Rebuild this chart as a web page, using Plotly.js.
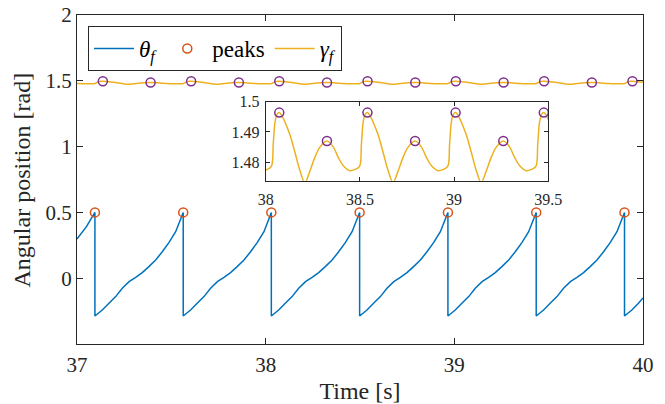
<!DOCTYPE html>
<html><head><meta charset="utf-8">
<script src="https://cdn.plot.ly/plotly-3.0.1.min.js"></script>
<style>html,body{margin:0;padding:0;background:#fff}#chart{width:665px;height:404px}</style>
</head><body><div id="chart"></div><script>
// theta_f (sawtooth)
const thetaTime = [
  37.000, 37.050, 37.095,
  37.095, 37.134, 37.169, 37.205, 37.240, 37.276, 37.311, 37.346, 37.381, 37.417, 37.452, 37.487, 37.523, 37.563,
  37.563, 37.602, 37.637, 37.673, 37.708, 37.744, 37.779, 37.814, 37.849, 37.885, 37.920, 37.955, 37.991, 38.030,
  38.030, 38.069, 38.104, 38.140, 38.175, 38.211, 38.246, 38.281, 38.316, 38.352, 38.387, 38.422, 38.458, 38.498,
  38.498, 38.537, 38.572, 38.608, 38.643, 38.679, 38.714, 38.749, 38.784, 38.820, 38.855, 38.890, 38.926, 38.966,
  38.966, 39.005, 39.040, 39.076, 39.111, 39.147, 39.182, 39.217, 39.252, 39.288, 39.323, 39.358, 39.394, 39.434,
  39.434, 39.473, 39.508, 39.544, 39.579, 39.615, 39.650, 39.685, 39.720, 39.756, 39.791, 39.826, 39.862, 39.902,
  39.902, 39.941, 39.976, 40.000
];
const thetaValue = [
  0.298, 0.392, 0.500,
  -0.287, -0.242, -0.191, -0.140, -0.077, -0.026, 0.006, 0.042, 0.088, 0.138, 0.201, 0.270, 0.353, 0.500,
  -0.287, -0.242, -0.191, -0.140, -0.077, -0.026, 0.006, 0.042, 0.088, 0.138, 0.201, 0.270, 0.353, 0.500,
  -0.287, -0.242, -0.191, -0.140, -0.077, -0.026, 0.006, 0.042, 0.088, 0.138, 0.201, 0.270, 0.353, 0.500,
  -0.287, -0.242, -0.191, -0.140, -0.077, -0.026, 0.006, 0.042, 0.088, 0.138, 0.201, 0.270, 0.353, 0.500,
  -0.287, -0.242, -0.191, -0.140, -0.077, -0.026, 0.006, 0.042, 0.088, 0.138, 0.201, 0.270, 0.353, 0.500,
  -0.287, -0.242, -0.191, -0.140, -0.077, -0.026, 0.006, 0.042, 0.088, 0.138, 0.201, 0.270, 0.353, 0.500,
  -0.287, -0.242, -0.191, -0.150
];
// theta_f peaks
const peakTime = [37.095, 37.563, 38.030, 38.498, 38.966, 39.434, 39.902];
const peakValue = [0.5, 0.5, 0.5, 0.5, 0.5, 0.5, 0.5];

// gamma_f (inset detail)
const gammaTime = [
  37.000, 37.008, 37.044, 37.071,
  37.095, 37.105, 37.115, 37.125, 37.137, 37.150, 37.167, 37.194, 37.220, 37.247, 37.273, 37.300, 37.326, 37.353, 37.390, 37.424, 37.450, 37.476, 37.512, 37.539,
  37.563, 37.573, 37.583, 37.593, 37.605, 37.618, 37.635, 37.662, 37.688, 37.715, 37.741, 37.768, 37.794, 37.821, 37.858, 37.892, 37.918, 37.944, 37.980, 38.007,
  38.030, 38.040, 38.050, 38.060, 38.072, 38.085, 38.102, 38.129, 38.155, 38.182, 38.208, 38.235, 38.261, 38.288, 38.325, 38.359, 38.385, 38.411, 38.447, 38.474,
  38.498, 38.508, 38.518, 38.528, 38.540, 38.553, 38.570, 38.597, 38.623, 38.650, 38.676, 38.703, 38.729, 38.756, 38.793, 38.827, 38.853, 38.879, 38.915, 38.942,
  38.966, 38.976, 38.986, 38.996, 39.008, 39.021, 39.038, 39.065, 39.091, 39.118, 39.144, 39.171, 39.197, 39.224, 39.261, 39.295, 39.321, 39.347, 39.383, 39.410,
  39.434, 39.444, 39.454, 39.464, 39.476, 39.489, 39.506, 39.533, 39.559, 39.586, 39.612, 39.639, 39.665, 39.692, 39.729, 39.763, 39.789, 39.815, 39.851, 39.878,
  39.902, 39.912, 39.922, 39.932, 39.944, 39.957, 39.974, 40.000
];
const gammaValue = [
  1.4795, 1.4789, 1.4772, 1.4776,
  1.4786, 1.4860, 1.4935, 1.4958, 1.4964, 1.4955, 1.4933, 1.4890, 1.4833, 1.4772, 1.4733, 1.4772, 1.4816, 1.4850, 1.4870, 1.4850, 1.4816, 1.4789, 1.4772, 1.4776,
  1.4786, 1.4860, 1.4935, 1.4958, 1.4964, 1.4955, 1.4933, 1.4890, 1.4833, 1.4772, 1.4733, 1.4772, 1.4816, 1.4850, 1.4870, 1.4850, 1.4816, 1.4789, 1.4772, 1.4776,
  1.4786, 1.4860, 1.4935, 1.4958, 1.4964, 1.4955, 1.4933, 1.4890, 1.4833, 1.4772, 1.4733, 1.4772, 1.4816, 1.4850, 1.4870, 1.4850, 1.4816, 1.4789, 1.4772, 1.4776,
  1.4786, 1.4860, 1.4935, 1.4958, 1.4964, 1.4955, 1.4933, 1.4890, 1.4833, 1.4772, 1.4733, 1.4772, 1.4816, 1.4850, 1.4870, 1.4850, 1.4816, 1.4789, 1.4772, 1.4776,
  1.4786, 1.4860, 1.4935, 1.4958, 1.4964, 1.4955, 1.4933, 1.4890, 1.4833, 1.4772, 1.4733, 1.4772, 1.4816, 1.4850, 1.4870, 1.4850, 1.4816, 1.4789, 1.4772, 1.4776,
  1.4786, 1.4860, 1.4935, 1.4958, 1.4964, 1.4955, 1.4933, 1.4890, 1.4833, 1.4772, 1.4733, 1.4772, 1.4816, 1.4850, 1.4870, 1.4850, 1.4816, 1.4789, 1.4772, 1.4776,
  1.4786, 1.4860, 1.4935, 1.4958, 1.4964, 1.4955, 1.4933, 1.4891
];
// gamma_f peaks
const gammaPeakTime = [37.137, 37.390, 37.605, 37.858, 38.072, 38.325, 38.540, 38.793, 39.008, 39.261, 39.476, 39.729, 39.944];
const gammaPeakValue = [1.4964, 1.4870, 1.4964, 1.4870, 1.4964, 1.4870, 1.4964, 1.4870, 1.4964, 1.4870, 1.4964, 1.4870, 1.4964];

const mainXTicks = [37, 38, 39, 40];
const mainYTicks = [0, 0.5, 1, 1.5, 2];
const mainYLabels = ['0', '0.5', '1', '1.5', '2'];
const insetXTicks = [38, 38.5, 39, 39.5];
const insetXLabels = ['38', '38.5', '39', '39.5'];
const insetYTicks = [1.48, 1.49, 1.5];
const insetYLabels = ['1.48', '1.49', '1.5'];
const xTitle = 'Time [s]';
const yTitle = 'Angular position [rad]';

const BLUE = '#0072BD', ORANGE = '#D95319', YELLOW = '#EDB120', PURPLE = '#7E2F8E', AX = '#262626';
const FONT = 'Liberation Serif';

const traces = [
  {x: thetaTime, y: thetaValue, type: 'scatter', mode: 'lines', name: '<i>θ</i><sub><i>f</i></sub>',
   line: {color: BLUE, width: 1.5}, xaxis: 'x', yaxis: 'y'},
  {x: peakTime, y: peakValue, type: 'scatter', mode: 'markers', name: 'peaks',
   marker: {symbol: 'circle-open', size: 9, color: ORANGE, line: {width: 1.5, color: ORANGE}}, xaxis: 'x', yaxis: 'y'},
  {x: gammaTime, y: gammaValue, type: 'scatter', mode: 'lines', name: '<i>γ</i><sub><i>f</i></sub>',
   line: {color: YELLOW, width: 1.5, shape: 'spline', smoothing: 1}, xaxis: 'x', yaxis: 'y'},
  {x: gammaPeakTime, y: gammaPeakValue, type: 'scatter', mode: 'markers', showlegend: false,
   marker: {symbol: 'circle-open', size: 9, color: PURPLE, line: {width: 1.5, color: PURPLE}}, xaxis: 'x', yaxis: 'y'},
  {x: gammaTime, y: gammaValue, type: 'scatter', mode: 'lines', showlegend: false,
   line: {color: YELLOW, width: 1.5, shape: 'spline', smoothing: 1}, xaxis: 'x2', yaxis: 'y2'},
  {x: gammaPeakTime, y: gammaPeakValue, type: 'scatter', mode: 'markers', showlegend: false, cliponaxis: true,
   marker: {symbol: 'circle-open', size: 9, color: PURPLE, line: {width: 1.5, color: PURPLE}}, xaxis: 'x2', yaxis: 'y2'}
];

const axBase = {showgrid: false, zeroline: false, showline: true, linecolor: AX, linewidth: 1,
  ticks: 'inside', tickcolor: AX, tickwidth: 1, mirror: 'ticks', tickmode: 'array', automargin: false};

const layout = {
  width: 665, height: 404,
  margin: {l: 77, r: 22, t: 15, b: 60, pad: 0},
  paper_bgcolor: '#ffffff', plot_bgcolor: '#ffffff',
  font: {family: FONT, size: 21, color: AX},
  showlegend: true,
  legend: {orientation: 'h', x: 0.0194, y: 0.9666, xanchor: 'left', yanchor: 'top',
    bgcolor: '#ffffff', bordercolor: AX, borderwidth: 1, font: {family: FONT, size: 23, color: '#000'},
    itemwidth: 40, tracegroupgap: 0},
  xaxis: Object.assign({}, axBase, {domain: [0, 1], anchor: 'y', range: [37, 40], tickvals: mainXTicks,
    ticklen: 6, ticklabelstandoff: 2, tickfont: {family: FONT, size: 21},
    title: {text: xTitle, font: {family: FONT, size: 24}}}),
  yaxis: Object.assign({}, axBase, {domain: [0, 1], anchor: 'x', range: [-0.5, 2], tickvals: mainYTicks,
    ticktext: mainYLabels, ticklen: 6, tickfont: {family: FONT, size: 21}}),
  xaxis2: Object.assign({}, axBase, {domain: [0.3334, 0.8327], anchor: 'y2', range: [38, 39.5],
    tickvals: insetXTicks, ticktext: insetXLabels, ticklen: 4, ticklabelstandoff: 4, tickfont: {family: FONT, size: 16}}),
  yaxis2: Object.assign({}, axBase, {domain: [0.4964, 0.7365], anchor: 'x2', range: [1.4739, 1.5],
    tickvals: insetYTicks, ticktext: insetYLabels, ticklen: 4, ticklabelstandoff: 2, tickfont: {family: FONT, size: 16}}),
  annotations: [
    {text: yTitle, xref: 'paper', yref: 'paper', x: -0.0972, y: 0.5, xanchor: 'center', yanchor: 'middle',
     textangle: -90, showarrow: false, font: {family: FONT, size: 24, color: AX}}
  ]
};

Plotly.newPlot('chart', traces, layout, {displayModeBar: false, staticPlot: true});
</script></body></html>
